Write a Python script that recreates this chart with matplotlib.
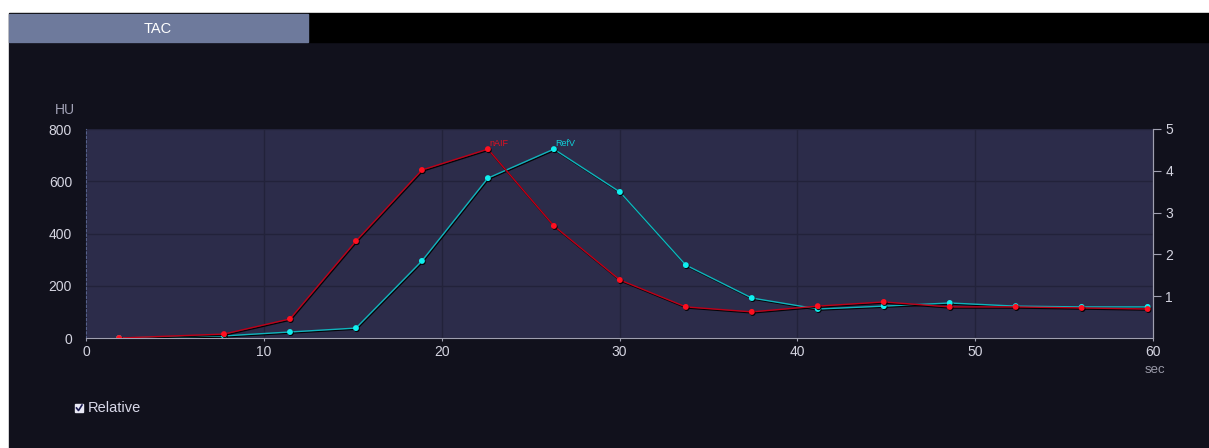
import matplotlib
matplotlib.use("Agg")
import matplotlib.pyplot as plt
import matplotlib.patheffects as pe
from matplotlib.patches import Rectangle

# data: sample times (sec) and HU values
times = [1.86, 7.76, 11.47, 15.18, 18.89, 22.6, 26.31, 30.02, 33.73, 37.44,
         41.15, 44.86, 48.57, 52.28, 55.99, 59.7]
naif = [0, 15, 73, 371, 643, 723, 429, 222, 119, 100, 122, 138, 119, 119, 115, 111]
refv = [0, 8, 23, 38, 295, 612, 723, 559, 279, 153, 111, 122, 134, 122, 119, 119]
x_ticks = [0, 10, 20, 30, 40, 50, 60]
y_ticks = [0, 200, 400, 600, 800]
rel_ticks = [1, 2, 3, 4, 5]

W, H = 1209, 448
bg = "#11111c"
plot_bg = "#2c2c4a"
grid_c = "#22223a"
txt_c = "#d4d4e0"

fig = plt.figure(figsize=(W / 100, H / 100), dpi=100)
fig.patch.set_facecolor("white")

# dark body and top bar
fig.add_artist(Rectangle((9 / W, 0), 1 - 9 / W, (H - 42) / H,
                         transform=fig.transFigure, color=bg, zorder=0))
fig.add_artist(Rectangle((9 / W, (H - 42) / H), 1 - 9 / W, 29 / H,
                         transform=fig.transFigure, color="black", zorder=0))
fig.add_artist(Rectangle((9 / W, (H - 42) / H), 299 / W, 28 / H,
                         transform=fig.transFigure, color="#6e7a9c", zorder=1))
fig.text(158 / W, (H - 29) / H, "TAC", color="white", fontsize=10.5,
         ha="center", va="center", family="Liberation Sans")

ax = fig.add_axes([86 / W, (H - 338) / H, 1067 / W, 209 / H])
ax.set_facecolor(plot_bg)
ax.set_xlim(0, 60)
ax.set_ylim(0, 800)
ax.set_xticks(x_ticks)
ax.set_yticks(y_ticks)
ax.grid(True, color=grid_c, linewidth=1)
ax.set_axisbelow(True)
ax.spines["top"].set_visible(False)
ax.spines["left"].set_color("#55608a")
ax.spines["left"].set_linestyle((0, (2, 2)))
ax.spines["bottom"].set_color("#a0a0b0")
ax.spines["right"].set_color("#a0a0b0")
ax.tick_params(axis="both", colors=txt_c, labelsize=10, length=2, width=0.8)
ax.tick_params(axis="y", length=0, pad=10)
ax.tick_params(axis="x", pad=3, color="#a0a0b0")
for lab in ax.get_xticklabels() + ax.get_yticklabels():
    lab.set_family("Liberation Sans")

shadow = [pe.SimpleLineShadow(offset=(0.6, -0.8), shadow_color="black", alpha=0.9),
          pe.Normal()]
ax.plot(times, refv, color="#10b4bc", linewidth=1.0, marker="o", markersize=3.2,
        markerfacecolor="#10f0f0", markeredgecolor="#10f0f0",
        path_effects=shadow, zorder=3)
ax.plot(times, naif, color="#c00018", linewidth=1.0, marker="o", markersize=3.2,
        markerfacecolor="#ff1020", markeredgecolor="#ff1020",
        path_effects=shadow, zorder=4)

ax.text(times[5] + 0.1, naif[5] + 4, "nAIF", color="#e01020", fontsize=6.5,
        family="Liberation Sans", va="bottom", ha="left")
ax.text(times[6] + 0.1, refv[6] + 4, "RefV", color="#10d0d8", fontsize=6.5,
        family="Liberation Sans", va="bottom", ha="left")

ax2 = ax.twinx()
ax2.set_ylim(0, 5)
ax2.set_yticks(rel_ticks)
for s in ["top", "left", "bottom"]:
    ax2.spines[s].set_visible(False)
ax2.spines["right"].set_color("#a0a0b0")
ax2.tick_params(axis="y", colors=txt_c, labelsize=10, length=6, width=0.8,
                color="#a0a0b0", pad=3)
for lab in ax2.get_yticklabels():
    lab.set_family("Liberation Sans")

fig.text(55 / W, (H - 110) / H, "HU", color="#a0a0b4", fontsize=10,
         ha="left", va="center", family="Liberation Sans")
fig.text(1165 / W, (H - 370) / H, "sec", color="#9a9aa8", fontsize=9.5,
         ha="right", va="center", family="Liberation Sans")

# checkbox
fig.add_artist(Rectangle((75 / W, (H - 412) / H), 8 / W, 8 / H,
                         transform=fig.transFigure, color="#e8e8f4", zorder=2))
fig.add_artist(plt.Line2D([76.5 / W, 78.5 / W, 82 / W],
                          [(H - 408) / H, (H - 410.5) / H, (H - 405) / H],
                          transform=fig.transFigure, color="#1a1a50",
                          linewidth=1.2, zorder=3))
fig.text(88 / W, (H - 408) / H, "Relative", color="#d8d8e8", fontsize=10.5,
         ha="left", va="center", family="Liberation Sans")

fig.savefig("out.png", dpi=100, facecolor=fig.get_facecolor())
